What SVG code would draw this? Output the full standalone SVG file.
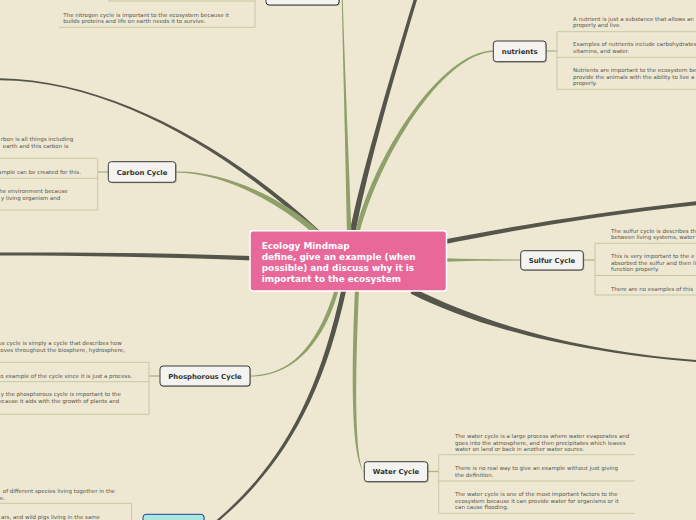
<svg xmlns="http://www.w3.org/2000/svg" width="696" height="520" viewBox="0 0 696 520">
<style>
.dk{fill:#56554b}
.gr{fill:#8fa06a}
.br{stroke:#c6c8a2;stroke-width:1;fill:none}
.lk{stroke:#a9b585;stroke-width:1.3;fill:none}
.nd{fill:#f4f3ef;stroke:#3b3b3b;stroke-width:1}
.sh{fill:#8a877a;opacity:.55}
.lb{font-family:"DejaVu Sans",sans-serif;font-weight:bold;font-size:6.9px;fill:#333;text-anchor:middle}
.tx{font-family:"DejaVu Sans",sans-serif;font-size:5.5px;fill:#55554f}
.te{font-family:"DejaVu Sans",sans-serif;font-size:5.5px;fill:#55554f;text-anchor:end}
.ct{font-family:"DejaVu Sans",sans-serif;font-weight:bold;font-size:8.9px;fill:#ffffff}
</style>
<rect x="0" y="0" width="696" height="520" fill="#eee8d3"/>

<g id="connectors">
<path class="dk" d="M349.5,233 C360,180 386,90 413.5,0 L417,0 C390,90 365,180 355.5,233 Z"/>
<path class="gr" d="M347,233 C345.5,150 343,60 341.8,0 L342.8,0 C344.5,60 348.5,150 351.5,233 Z"/>
<path class="gr" d="M355,233 C373,158 440,50.5 494,50.5 L494,51.8 C441,53.5 378,161 359.5,233 Z"/>
<path class="dk" d="M317,234 C228.5,151.5 110,80.5 0,80.3 L0,78.3 C110,79.5 231.5,148.5 321,232 Z"/>
<path class="gr" d="M313,233 C277,202 225,173.3 176,172.6 L176,171.6 C225,170.7 283,198 319,231 Z"/>
<path class="dk" d="M252,256 C170,253 80,252 0,252.5 L0,255.5 C80,255.5 170,257 252,260.5 Z"/>
<path class="gr" d="M339,289 C324.5,341 295,376.6 250,376.5 L250,375.5 C295,375.4 319.5,339 335,289 Z"/>
<path class="dk" d="M346.5,289 C322.5,400 281,471 210.5,528 L209.5,526 C279,469 317.5,400 341.5,289 Z"/>
<path class="gr" d="M359,289 C355,380 354.5,457 364,472.5 L364,471.5 C351.5,459 351,380 355,289 Z"/>
<path class="dk" d="M410.5,293.5 C468,322.5 559.5,351.2 696,362 L696,360 C560.5,348.8 472,317.5 413.5,288 Z"/>
<path class="gr" d="M444,258.3 C470,259 495,259.5 521,259.5 L521,260.6 C495,260.6 470,261 444,261.7 Z"/>
<path class="dk" d="M444,239.5 C520,225 600,212 696,201.3 L696,205.3 C600,215.5 520,229 444,244.3 Z"/>
<line class="lk" x1="546" y1="51" x2="557" y2="51"/>
<line class="lk" x1="108.3" y1="172" x2="97.7" y2="172"/>
<line class="lk" x1="160" y1="376" x2="149" y2="376"/>
<line class="lk" x1="583.3" y1="260" x2="595" y2="260"/>
<line class="lk" x1="427.7" y1="471.5" x2="438.7" y2="471.5"/>
</g>

<g id="nitrogen">
<rect class="sh" x="267" y="-15" width="73" height="21" rx="3"/>
<rect class="nd" x="266" y="-16" width="73" height="21" rx="3"/>
<path class="br" d="M108,1 H255 M59,27.3 H255 M255,0 V27.3"/>
<text class="tx" x="63.3" y="17">The nitrogen cycle is important to the ecosystem because it</text>
<text class="tx" x="63.3" y="23.3">builds proteins and life on earth needs it to survive.</text>
</g>

<g id="nutrients">
<rect class="sh" x="494.3" y="42" width="52.7" height="20.7" rx="3"/>
<rect class="nd" x="493.3" y="41" width="52.7" height="20.7" rx="3"/>
<text class="lb" x="519.7" y="53.8">nutrients</text>
<path class="br" d="M557,31.7 V89.3 M557,31.7 H696 M557,57.3 H696 M557,89.3 H696"/>
<text class="tx" x="573" y="21">A nutrient is just a substance that allows an</text>
<text class="tx" x="573" y="27.3">properly and live.</text>
<text class="tx" x="573" y="45.7">Examples of nutrients include carbohydrates</text>
<text class="tx" x="573" y="53">vitamins, and water.</text>
<text class="tx" x="573" y="72">Nutrients are important to the ecosystem be</text>
<text class="tx" x="573" y="78.7">provide the animals with the ability to live a</text>
<text class="tx" x="573" y="85">properly.</text>
</g>

<g id="carbon">
<rect class="sh" x="109.3" y="162.7" width="67.4" height="20.6" rx="3"/>
<rect class="nd" x="108.3" y="161.7" width="67.4" height="20.6" rx="3"/>
<text class="lb" x="142" y="174.5">Carbon Cycle</text>
<path class="br" d="M97.7,158.3 V210 M0,158.3 H97.7 M0,178.3 H97.7 M0,210 H97.7"/>
<text class="te" x="73.3" y="141.3">rbon is all things including</text>
<text class="te" x="68.3" y="148">earth and this carbon is</text>
<text class="te" x="81" y="174">ample can be created for this.</text>
<text class="te" x="67.7" y="193">he environment because</text>
<text class="te" x="60.3" y="200.3">y living organism and</text>
</g>

<g id="center">
<rect x="250" y="230.7" width="196.5" height="60.3" rx="3" fill="#e8689a" stroke="#ffffff" stroke-width="1.5"/>
<text class="ct" x="261.7" y="248.5">Ecology Mindmap</text>
<text class="ct" x="261.7" y="259.5">define, give an example (when</text>
<text class="ct" x="261.7" y="270.5">possible) and discuss why it is</text>
<text class="ct" x="261.7" y="281.5">important to the ecosystem</text>
</g>

<g id="sulfur">
<rect class="sh" x="521.7" y="251.7" width="62.6" height="19.3" rx="3"/>
<rect class="nd" x="520.7" y="250.7" width="62.6" height="19.3" rx="3"/>
<text class="lb" x="552" y="262.8">Sulfur Cycle</text>
<path class="br" d="M595,243.3 V295 M595,243.3 H696 M595,275.5 H696 M595,295 H696"/>
<text class="tx" x="611" y="232.7">The sulfur cycle is describes th</text>
<text class="tx" x="611" y="239.3">between living systems, water</text>
<text class="tx" x="611" y="258">This is very important to the e</text>
<text class="tx" x="611" y="264.5">absorbed the sulfur and then li</text>
<text class="tx" x="611" y="271">function properly.</text>
<text class="tx" x="611" y="291">There are no examples of this</text>
</g>

<g id="phosphorous">
<rect class="sh" x="161" y="367" width="90" height="20" rx="3"/>
<rect class="nd" x="160" y="366" width="90" height="20" rx="3"/>
<text class="lb" x="205" y="378.6">Phosphorous Cycle</text>
<path class="br" d="M149,362.3 V414.3 M0,362.3 H149 M0,381.7 H149 M0,414.3 H149"/>
<text class="te" x="121.7" y="345.3">us cycle is simply a cycle that describes how</text>
<text class="te" x="125" y="352">oves throughout the biosphere, hydrosphere,</text>
<text class="te" x="132" y="377.7">o example of the cycle since it is just a process.</text>
<text class="te" x="121" y="396.3">y the phosphorous cycle is important to the</text>
<text class="te" x="119.3" y="403">ecause it aids with the growth of plants and</text>
</g>

<g id="water">
<rect class="sh" x="365.3" y="462.7" width="63.4" height="20" rx="3"/>
<rect class="nd" x="364.3" y="461.7" width="63.4" height="20" rx="3"/>
<text class="lb" x="396" y="474">Water Cycle</text>
<path class="br" d="M438.7,454.7 V513.3 M438.7,454.7 H635 M438.7,481 H635 M438.7,513.3 H635"/>
<text class="tx" x="455" y="438">The water cycle is a large process where water evaporates and</text>
<text class="tx" x="455" y="444.5">goes into the atmosphere, and then precipitates which leaves</text>
<text class="tx" x="455" y="451">water on land or back in another water source.</text>
<text class="tx" x="455" y="469.7">There is no real way to give an example without just giving</text>
<text class="tx" x="455" y="477">the definition.</text>
<text class="tx" x="455" y="495.7">The water cycle is one of the most important factors to the</text>
<text class="tx" x="455" y="502.5">ecosystem because it can provide water for organisms or it</text>
<text class="tx" x="455" y="509">can cause flooding.</text>
</g>

<g id="community">
<rect class="sh" x="144" y="515.3" width="61" height="20" rx="3"/>
<rect x="143" y="514.3" width="61" height="20" rx="3" fill="#a9e8e1" stroke="#23408e" stroke-width="1"/>
<path class="br" d="M131.7,503.3 V520 M0,503.3 H131.7"/>
<text class="te" x="115" y="493">of different species living together in the</text>
<text class="te" x="5" y="499.7">e.</text>
<text class="te" x="100" y="519.3">ars, and wild pigs living in the same</text>
</g>
</svg>
